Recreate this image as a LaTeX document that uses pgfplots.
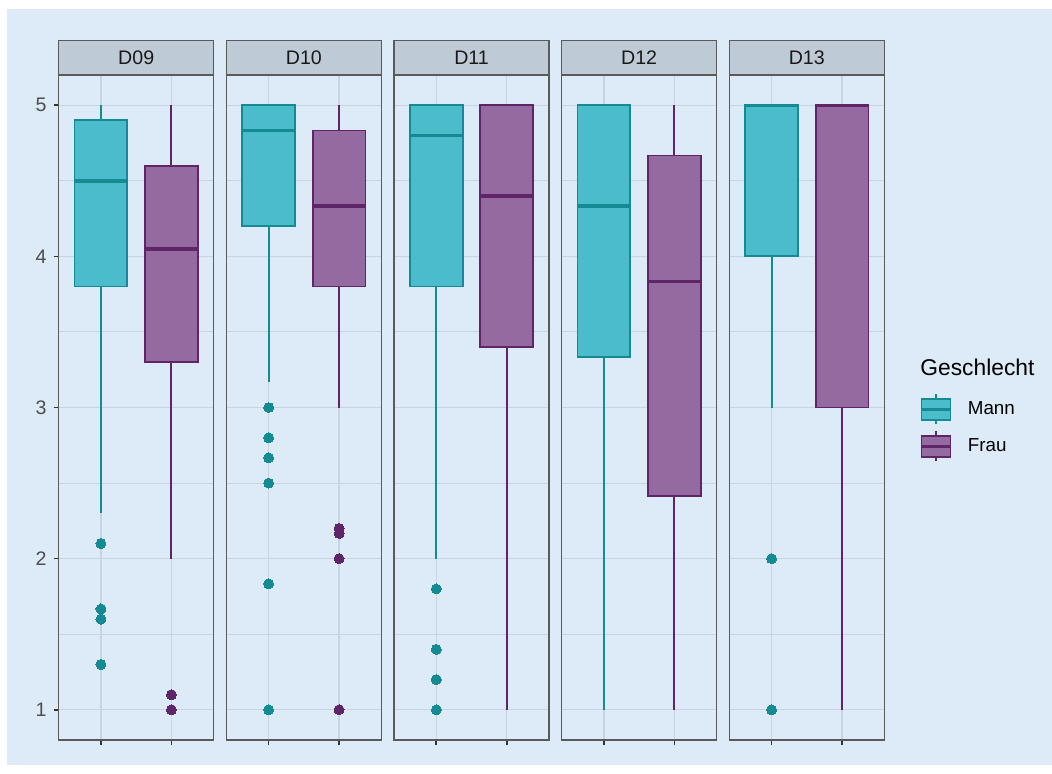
\documentclass[border=0pt]{standalone}
\usepackage{pgfplots}
\pgfplotsset{compat=1.18}
\usepgfplotslibrary{statistics}
\usepackage{fontspec}
\setmainfont{Liberation Sans}

\definecolor{bgc}{HTML}{DDEBF8}
\definecolor{gridc}{HTML}{C9D4E0}
\definecolor{panelc}{HTML}{5A5A5A}
\definecolor{tickc}{HTML}{333333}
\definecolor{tickl}{HTML}{4D4D4D}
\definecolor{stripc}{HTML}{BECAD6}
\definecolor{mannfill}{HTML}{4ABCCB}
\definecolor{mannline}{HTML}{148A92}
\definecolor{fraufill}{HTML}{946AA0}
\definecolor{frauline}{HTML}{5E2668}

\newcommand\ticksize{\fontsize{9.8}{11}\selectfont}
\newcommand\stripsize{\fontsize{9.8}{11}\selectfont}

\pgfplotsset{
  panel/.style={
    scale only axis, width=77.5pt, height=332.5pt,
    anchor=south west,
    xmin=0.4, xmax=2.6, ymin=0.8, ymax=5.2,
    xtick={1,2}, xticklabels={},
    ytick={1,2,3,4,5}, minor ytick={1.5,2.5,3.5,4.5},
    tick pos=left, tick align=outside,
    major tick length=2.5pt, minor tick length=0pt,
    xmajorgrids, ymajorgrids, yminorgrids,
    major grid style={gridc, line width=0.7pt},
    minor grid style={gridc, line width=0.45pt},
    axis line style={panelc, line width=0.7pt},
    tick style={tickc, line width=0.8pt},
    clip=false,
    boxplot/draw direction=y,
    boxplot/box extend=0.75,
    boxplot/whisker extend=0,
    boxplot/every median/.style={line width=1.7pt},
    boxplot/every whisker/.style={line width=1pt},
  },
  mann/.style={draw=mannline, fill=mannfill, line width=0.9pt,
    mark=*, mark size=2.5pt, mark options={draw=mannline, fill=mannline, line width=0pt}},
  frau/.style={draw=frauline, fill=fraufill, line width=0.9pt,
    mark=*, mark size=2.5pt, mark options={draw=frauline, fill=frauline, line width=0pt}},
  noy/.style={yticklabels={}, ytick style={draw=none}},
}

% facet strip on top of a panel
\newcommand\strip[1]{%
  \draw[panelc, line width=0.7pt, fill=stripc] (rel axis cs:0,1) rectangle (rel axis cs:1,1.0516);
  \node[font=\stripsize, text=black!90] at (rel axis cs:0.5,1.0258) {#1};
}

\begin{document}
\begin{tikzpicture}
\fill[white] (0pt,0pt) rectangle (526pt,386.5pt);
\fill[bgc] (3.5pt,4pt) rectangle (526pt,382pt);

% D09
\begin{axis}[panel, at={(29.35pt,16.5pt)},
  yticklabel style={font=\ticksize, text=tickl},
  /pgf/number format/assume math mode=true]
\addplot[mann, boxplot prepared={lower whisker=2.3, lower quartile=3.8, median=4.5,
  upper quartile=4.9, upper whisker=5, draw position=1}]
  coordinates {(1,2.1) (1,1.667) (1,1.6) (1,1.3)};
\addplot[frau, boxplot prepared={lower whisker=2.0, lower quartile=3.3, median=4.05,
  upper quartile=4.6, upper whisker=5, draw position=2}]
  coordinates {(2,1.1) (2,1.0)};
\strip{D09}
\end{axis}

% D10
\begin{axis}[panel, noy, at={(113.175pt,16.5pt)}]
\addplot[mann, boxplot prepared={lower whisker=3.167, lower quartile=4.2, median=4.833,
  upper quartile=5, upper whisker=5, draw position=1}]
  coordinates {(1,3.0) (1,2.8) (1,2.667) (1,2.5) (1,1.833) (1,1.0)};
\addplot[frau, boxplot prepared={lower whisker=3.0, lower quartile=3.8, median=4.333,
  upper quartile=4.833, upper whisker=5, draw position=2}]
  coordinates {(2,2.2) (2,2.167) (2,2.0) (2,1.0)};
\strip{D10}
\end{axis}

% D11
\begin{axis}[panel, noy, at={(197pt,16.5pt)}]
\addplot[mann, boxplot prepared={lower whisker=2.0, lower quartile=3.8, median=4.8,
  upper quartile=5, upper whisker=5, draw position=1}]
  coordinates {(1,1.8) (1,1.4) (1,1.2) (1,1.0)};
\addplot[frau, boxplot prepared={lower whisker=1.0, lower quartile=3.4, median=4.4,
  upper quartile=5, upper whisker=5, draw position=2}]
  coordinates {};
\strip{D11}
\end{axis}

% D12
\begin{axis}[panel, noy, at={(280.825pt,16.5pt)}]
\addplot[mann, boxplot prepared={lower whisker=1.0, lower quartile=3.333, median=4.333,
  upper quartile=5, upper whisker=5, draw position=1}]
  coordinates {};
\addplot[frau, boxplot prepared={lower whisker=1.0, lower quartile=2.417, median=3.833,
  upper quartile=4.667, upper whisker=5, draw position=2}]
  coordinates {};
\strip{D12}
\end{axis}

% D13 with the legend
\begin{axis}[panel, noy, at={(364.65pt,16.5pt)},
  legend style={at={(1.232,0.521)}, anchor=north west, draw=none, fill=none,
    inner sep=0pt, outer sep=0pt, font=\fontsize{9.4}{11}\selectfont,
    row sep=2.5pt, /tikz/every even column/.append style={column sep=0pt},
    /tikz/every odd column/.append style={column sep=6pt}},
  legend cell align=left]
\addlegendimage{legend image code/.code={
  \draw[mannline, line width=0.9pt] (7.25pt,-7.5pt) -- (7.25pt,7.5pt);
  \draw[mannline, fill=mannfill, line width=0.9pt] (0pt,-5.25pt) rectangle (14.5pt,5.25pt);
  \draw[mannline, line width=1.3pt] (0pt,0pt) -- (14.5pt,0pt);}}
\addlegendentry{Mann}
\addlegendimage{legend image code/.code={
  \draw[frauline, line width=0.9pt] (7.25pt,-7.5pt) -- (7.25pt,7.5pt);
  \draw[frauline, fill=fraufill, line width=0.9pt] (0pt,-5.25pt) rectangle (14.5pt,5.25pt);
  \draw[frauline, line width=1.3pt] (0pt,0pt) -- (14.5pt,0pt);}}
\addlegendentry{Frau}
\addplot[mann, forget plot, boxplot prepared={lower whisker=3.0, lower quartile=4.0, median=5,
  upper quartile=5, upper whisker=5, draw position=1}]
  coordinates {(1,2.0) (1,1.0)};
\addplot[frau, forget plot, boxplot prepared={lower whisker=1.0, lower quartile=3.0, median=5,
  upper quartile=5, upper whisker=5, draw position=2}]
  coordinates {};
\strip{D13}
\node[anchor=base west, font=\fontsize{11.4}{13}\selectfont, inner sep=0pt]
  at (axis description cs:1.2303,0.5474) {Geschlecht};
\end{axis}
\end{tikzpicture}
\end{document}
